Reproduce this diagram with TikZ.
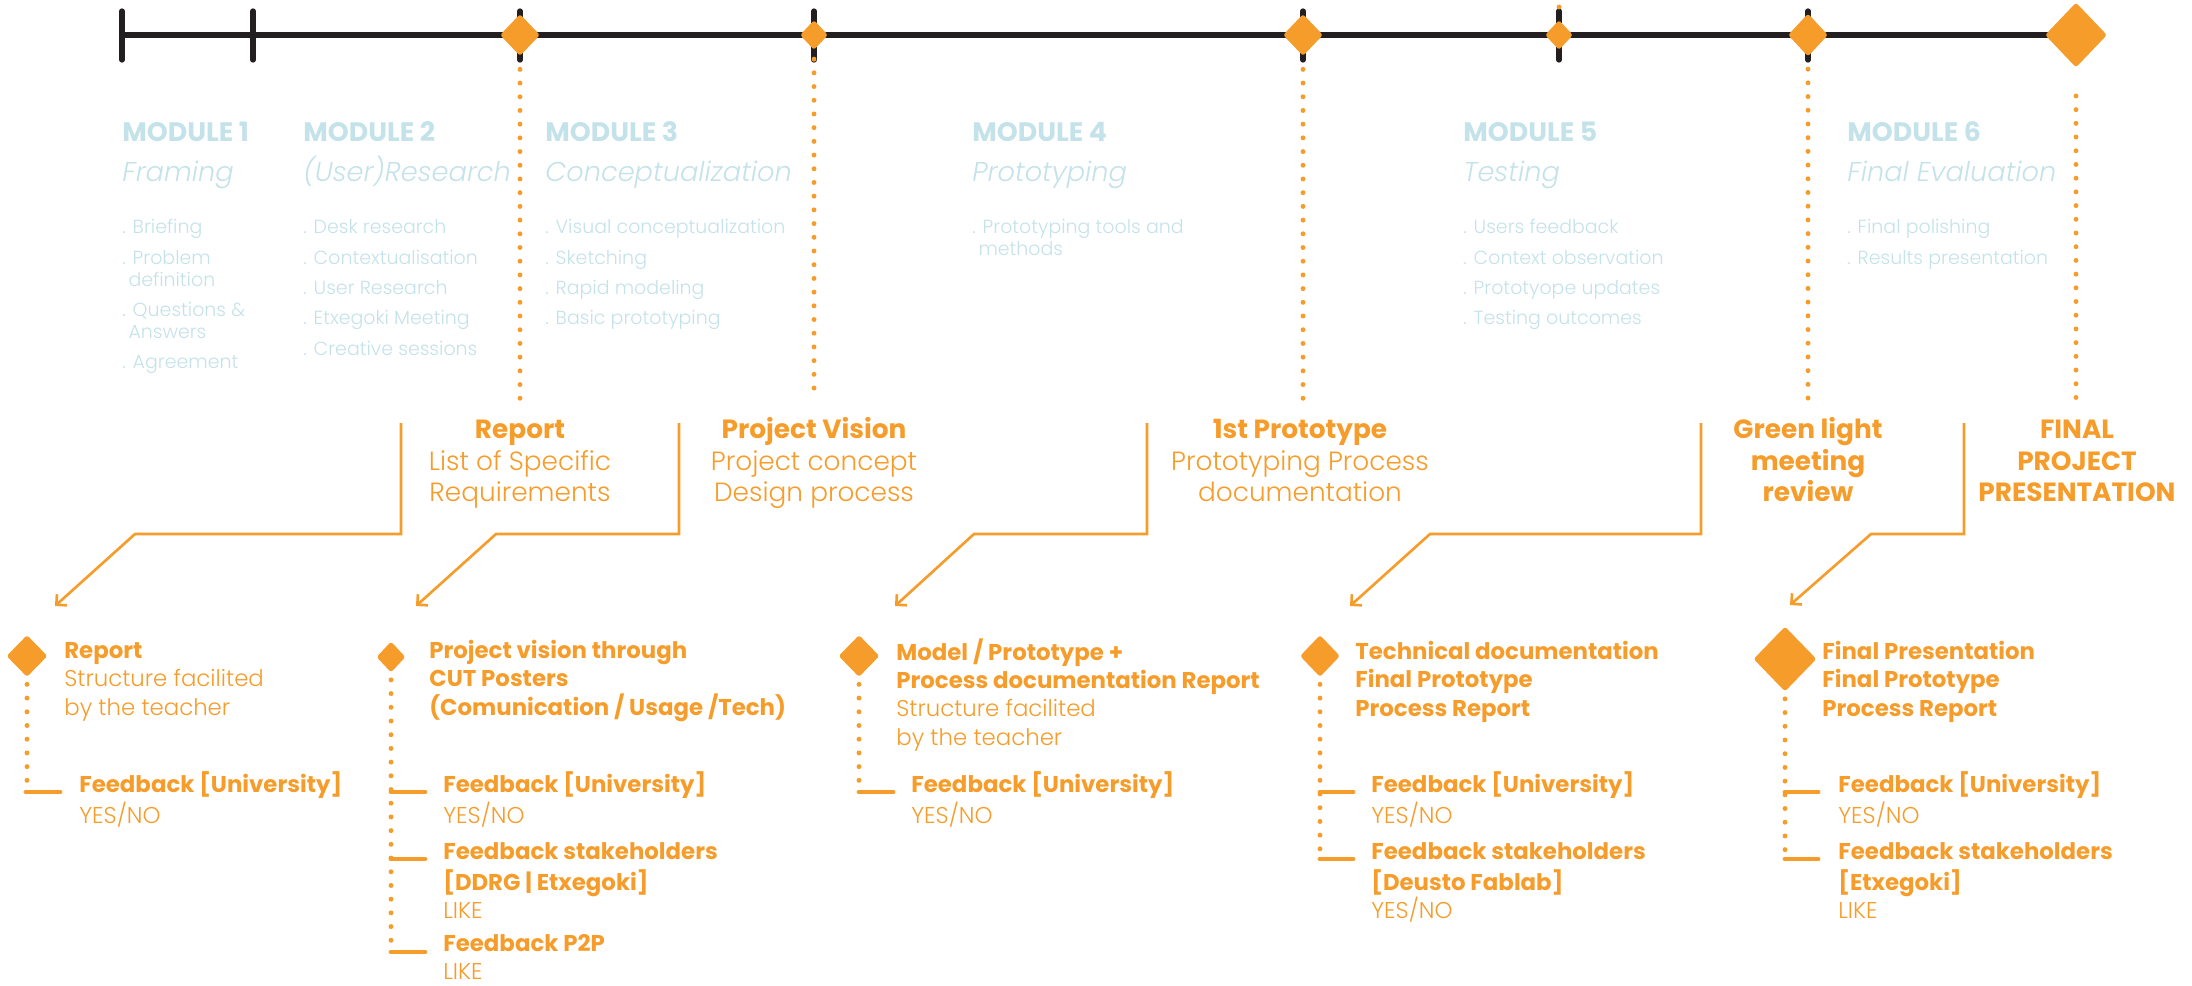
\documentclass[tikz,border=0pt]{standalone}
\usepackage{fontspec}
\setmainfont{Poppins}[UprightFont=* Light, ItalicFont=* Light Italic, BoldFont=* Bold]
\usetikzlibrary{shapes.geometric,arrows.meta}

\definecolor{orng}{RGB}{246,156,42}
\definecolor{pale}{RGB}{196,226,233}
\definecolor{ink}{RGB}{35,31,32}

\tikzset{
  axis/.style={ink, line width=3.2pt},
  tickmark/.style={ink, line width=3pt, line cap=round},
  mile/.style={diamond, fill=orng, inner sep=0pt, rounded corners=1.5pt},
  dots/.style={orng, line width=2.8pt, line cap=round, dash pattern=on 0pt off 7.8pt},
  link/.style={orng, line width=1.5pt, -{Straight Barb[angle=90:6pt]}},
  fbbar/.style={orng, line width=2.8pt, line cap=round},
  modtitle/.style={pale, anchor=west, inner sep=0pt, font=\fontsize{15.2}{18}\selectfont\bfseries},
  modsub/.style={pale, anchor=base west, inner sep=0pt, font=\fontsize{15.5}{18}\selectfont\itshape},
  moditems/.style={pale, anchor=north west, inner sep=0pt, align=left, font=\fontsize{10.8}{12.5}\selectfont},
  deliv/.style={orng, anchor=north, inner sep=0pt, align=center, font=\fontsize{15}{18}\selectfont},
  task/.style={orng, anchor=north west, inner sep=0pt, align=left, font=\fontsize{13}{16.2}\selectfont},
}

\begin{document}
\begin{tikzpicture}[x=0.02cm, y=-0.02cm]
\useasboundingbox (0,0) rectangle (2192,985);

% timeline
\draw[axis] (122,35) -- (2050,35);
\foreach \x in {122,253,520,814,1303,1559,1808}
  \draw[tickmark] (\x,11) -- (\x,60);
\fill[orng] (1559,7) circle (1.4pt);

\node[mile, minimum width=0.8cm, minimum height=0.84cm] (m1) at (520,35) {};
\node[mile, minimum width=0.56cm, minimum height=0.6cm] (m2) at (814,35) {};
\node[mile, minimum width=0.8cm, minimum height=0.84cm] (m3) at (1303,35) {};
\node[mile, minimum width=0.56cm, minimum height=0.6cm] (m4) at (1559,35) {};
\node[mile, minimum width=0.8cm, minimum height=0.86cm] (m5) at (1808,35) {};
\node[mile, minimum width=1.24cm, minimum height=1.3cm] (m6) at (2076,35) {};

\draw[dots] ([yshift=-7.4pt]m1.south) -- (520,401);
\draw[dots] ([yshift=-5pt]m2.south) -- (814,401);
\draw[dots] ([yshift=-7.4pt]m3.south) -- (1303,401);
\draw[dots] ([yshift=-7pt]m5.south) -- (1808,401);
\draw[dots] ([yshift=-16pt]m6.south) -- (2076,401);

% modules
\node[modtitle] (mod1) at (122,132) {MODULE 1};
\node[modsub] (sub1) at (122,181) {Framing};
\node[moditems] (it1) at (122,218) {\strut. Briefing\\[4.8pt]. Problem\\\hspace{3.5pt}definition\\[4.8pt]. Questions \&\\\hspace{3.5pt}Answers\\[4.8pt]. Agreement};

\node[modtitle] (mod2) at (303,132) {MODULE 2};
\node[modsub] (sub2) at (303,181) {(User)Research};
\node[moditems] (it2) at (303,218) {\strut. Desk research\\[4.8pt]. Contextualisation\\[4.8pt]. User Research\\[4.8pt]. Etxegoki Meeting\\[4.8pt]. Creative sessions};

\node[modtitle] (mod3) at (545,132) {MODULE 3};
\node[modsub] (sub3) at (545,181) {Conceptualization};
\node[moditems] (it3) at (545,218) {\strut. Visual conceptualization\\[4.8pt]. Sketching\\[4.8pt]. Rapid modeling\\[4.8pt]. Basic prototyping};

\node[modtitle] (mod4) at (972,132) {MODULE 4};
\node[modsub] (sub4) at (972,181) {Prototyping};
\node[moditems] (it4) at (972,218) {\strut. Prototyping tools and\\\hspace{3.5pt}methods};

\node[modtitle] (mod5) at (1463,132) {MODULE 5};
\node[modsub] (sub5) at (1463,181) {Testing};
\node[moditems] (it5) at (1463,218) {\strut. Users feedback\\[4.8pt]. Context observation\\[4.8pt]. Prototyope updates\\[4.8pt]. Testing outcomes};

\node[modtitle] (mod6) at (1847,132) {MODULE 6};
\node[modsub] (sub6) at (1847,181) {Final Evaluation};
\node[moditems] (it6) at (1847,218) {\strut. Final polishing\\[4.8pt]. Results presentation};

% deliverables
\node[deliv] (rep) at (520,416) {\strut\textbf{Report}\\List of Specific\\Requirements};
\node[deliv] (vis) at (814,416) {\strut\textbf{Project Vision}\\Project concept\\Design process};
\node[deliv] (proto) at (1300,416) {\strut\textbf{1st Prototype}\\Prototyping Process\\documentation};
\node[deliv] (green) at (1808,416) {\strut\textbf{Green light}\\\textbf{meeting}\\\textbf{review}};
\node[deliv] (final) at (2077,416) {\strut\textbf{FINAL}\\\textbf{PROJECT}\\\textbf{PRESENTATION}};

% links down to the tasks
\coordinate (s1) at (401,423); \coordinate (e1) at (55,606);
\coordinate (s2) at (679,423); \coordinate (e2) at (416,606);
\coordinate (s3) at (1147,423); \coordinate (e3) at (895,606);
\coordinate (s4) at (1701,423); \coordinate (e4) at (1350,606);
\coordinate (s5) at (1964,423); \coordinate (e5) at (1790,605);
\draw[link] (s1) |- (135,534) -- (e1);
\draw[link] (s2) |- (496,534) -- (e2);
\draw[link] (s3) |- (974,534) -- (e3);
\draw[link] (s4) |- (1430,534) -- (e4);
\draw[link] (s5) |- (1871,534) -- (e5);

% tasks
\node[mile, minimum width=0.82cm, minimum height=0.84cm] (b1) at (27,656) {};
\node[mile, minimum width=0.58cm, minimum height=0.62cm] (b2) at (391,657) {};
\node[mile, minimum width=0.82cm, minimum height=0.84cm] (b3) at (859,656) {};
\node[mile, minimum width=0.8cm, minimum height=0.84cm] (b4) at (1320,656) {};
\node[mile, minimum width=1.26cm, minimum height=1.3cm] (b5) at (1785,659) {};

\draw[dots] ([yshift=-4pt]b1.south) -- (27,792);
\draw[dots] ([yshift=-4pt]b2.south) -- (391,952);
\draw[dots] ([yshift=-4pt]b3.south) -- (859,792);
\draw[dots] ([yshift=-4pt]b4.south) -- (1320,859);
\draw[dots] ([yshift=-4pt]b5.south) -- (1785,859);

\draw[fbbar] (26,792) -- (60,792);
\draw[fbbar] (391,792) -- (425,792);
\draw[fbbar] (391,859) -- (425,859);
\draw[fbbar] (391,952) -- (425,952);
\draw[fbbar] (859,792) -- (893,792);
\draw[fbbar] (1320,792) -- (1353,792);
\draw[fbbar] (1320,859) -- (1353,859);
\draw[fbbar] (1785,792) -- (1818,792);
\draw[fbbar] (1785,859) -- (1818,859);

\node[task] (t1) at (64,638) {\strut\textbf{Report}\\Structure facilited\\by the teacher};
\node[task] (f1) at (79,771) {\strut\textbf{Feedback [University]}\\YES/NO};

\node[task] (t2) at (429,638) {\strut\textbf{Project vision through}\\\textbf{CUT Posters}\\\textbf{(Comunication / Usage /Tech)}};
\node[task] (f2a) at (443,771) {\strut\textbf{Feedback [University]}\\YES/NO};
\node[task] (f2b) at (443,839) {\strut\textbf{Feedback stakeholders}\\{}\textbf{[DDRG | Etxegoki]}\\LIKE};
\node[task] (f2c) at (443,931) {\strut\textbf{Feedback P2P}\\LIKE};

\node[task] (t3) at (896,638) {\strut\textbf{Model / Prototype +}\\\textbf{Process documentation Report}\\Structure facilited\\by the teacher};
\node[task] (f3) at (911,771) {\strut\textbf{Feedback [University]}\\YES/NO};

\node[task] (t4) at (1355,639) {\strut\textbf{Technical documentation}\\\textbf{Final Prototype}\\\textbf{Process Report}};
\node[task] (f4a) at (1371,771) {\strut\textbf{Feedback [University]}\\YES/NO};
\node[task] (f4b) at (1371,839) {\strut\textbf{Feedback stakeholders}\\{}\textbf{[Deusto Fablab]}\\YES/NO};

\node[task] (t5) at (1822,639) {\strut\textbf{Final Presentation}\\\textbf{Final Prototype}\\\textbf{Process Report}};
\node[task] (f5a) at (1838,771) {\strut\textbf{Feedback [University]}\\YES/NO};
\node[task] (f5b) at (1838,839) {\strut\textbf{Feedback stakeholders}\\{}\textbf{[Etxegoki]}\\LIKE};

\end{tikzpicture}
\end{document}
